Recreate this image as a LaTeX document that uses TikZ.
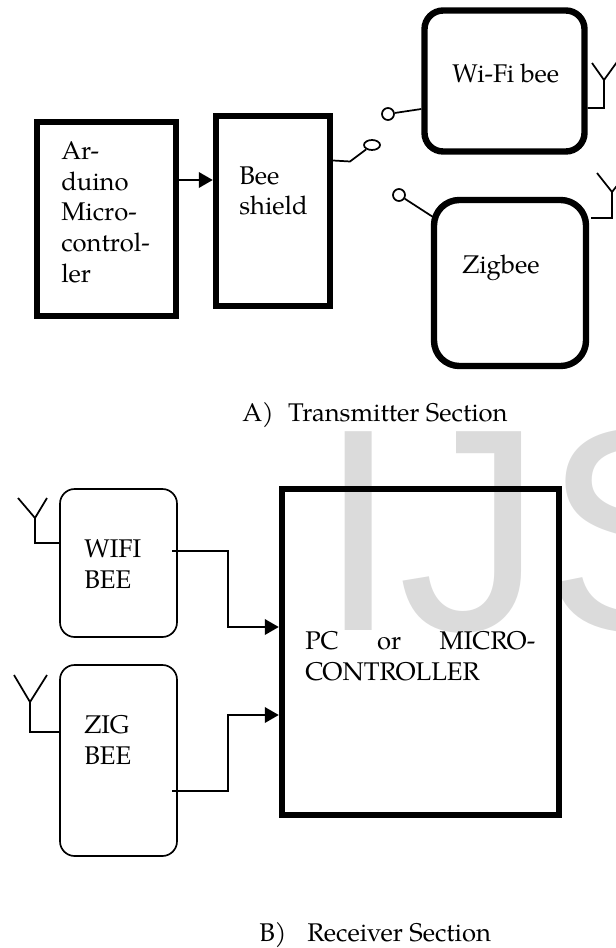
\documentclass[tikz,border=0pt]{standalone}
\usepackage{fontspec}
\setmainfont{TeX Gyre Pagella}
\newfontfamily\markfont{Liberation Sans}
\usetikzlibrary{arrows.meta,shapes.geometric}
\def\px{0.75pt}

\begin{document}
\begin{tikzpicture}[
  x=0.75pt, y=-0.75pt,
  font=\fontsize{19.2}{22.9}\selectfont,
  heavy/.style={draw, line width=4.8pt, minimum width=#1*\px},
  heavy/.default=100,
  soft/.style={draw, line width=1.25pt, rounded corners=11pt, minimum width=117*\px},
  boxtext/.style={anchor=base west, inner sep=0pt, align=left},
  wire/.style={line width=1.3pt},
  flow/.style={line width=1.9pt, -{Triangle[length=10.5pt, width=11.5pt]}},
  contact/.style={draw, line width=1.3pt, ellipse, inner sep=0pt}
]
  \useasboundingbox (0,0) rectangle (615,948);
  \node[anchor=base west, inner sep=0pt, text=black!14, font=\markfont\fontsize{216.75}{220}\selectfont] (mark) at (318,630) {IJS};

  % transmitter
  \node[heavy=139, minimum height=194*\px] (arduino) at (106.5,219) {};
  \node[heavy=114, minimum height=190*\px] (shield) at (273,211) {};
  \node[heavy=160, minimum height=141*\px, rounded corners=14pt] (wifi) at (504.5,81) {};
  \node[heavy=152, minimum height=166*\px, rounded corners=19pt] (zigbee) at (510,283) {};

  \node[boxtext] (arduinotext) at (61,282) {Ar-\\duino\\Micro-\\control-\\ler};
  \node[boxtext] (shieldtext) at (239,215) {Bee\\shield};
  \node[boxtext] (wifitext) at (452,83) {Wi-Fi bee};
  \node[boxtext] (zigbeetext) at (462,273) {Zigbee};
  \node[boxtext] (txcaption) at (242,421) {\makebox[34.5pt][l]{A)}Transmitter Section};

  \draw[flow] (arduino.east |- 0,180) -- (shield.west |- 0,180);

  \node[contact, minimum width=16*\px, minimum height=10*\px] (shieldpin) at (372,145) {};
  \node[contact, minimum width=12*\px, minimum height=12*\px] (wifipin) at (388,114) {};
  \node[contact, minimum width=12*\px, minimum height=12*\px] (zigbeepin) at (399,195) {};
  \draw[wire] (shield.east |- 0,160.5) -- (350,161.5) -- (shieldpin);
  \draw[wire] (wifi.west |- 0,109) -- (wifipin);
  \draw[wire] (433,217) -- (zigbeepin);

  \draw[wire] (wifi.east |- 0,108) -- (604,108) -- (604,80) coordinate (wifiant) -- (592,63);
  \draw[wire] (wifiant) -- (617,62);
  \draw[wire] (591,218) -- (612,218) -- (612,192) coordinate (zigant) -- (597,173);
  \draw[wire] (zigant) -- (627,173);

  % receiver
  \node[soft, minimum height=148*\px] (wifibee) at (118.5,563) {};
  \node[soft, minimum height=191*\px] (zigbee2) at (118.5,760.5) {};
  \node[heavy=277, minimum height=326*\px] (pc) at (420.5,652) {};

  \node[boxtext] (wifibeetext) at (84,588) {WIFI\\BEE};
  \node[boxtext] (zigbee2text) at (84,764) {ZIG\\BEE};
  \node[boxtext] (pctext) at (305,680) {\makebox[172.5pt][s]{PC\hfill or\hfill MICRO-}\\CONTROLLER};
  \node[boxtext] (rxcaption) at (259,941) {\makebox[36pt][l]{B)}Receiver Section};

  \draw[flow] (172,551) -- (228,551) -- (228,627) -- (pc.west |- 0,627);
  \draw[flow] (172,791) -- (228,791) -- (228,715) -- (pc.west |- 0,715);

  \draw[wire] (wifibee.west |- 0,543) -- (35,543) -- (35,518) coordinate (wifibeeant) -- (18,498);
  \draw[wire] (wifibeeant) -- (47,498);
  \draw[wire] (zigbee2.west |- 0,732) -- (30,732) -- (30,702) coordinate (zigbee2ant) -- (14,675);
  \draw[wire] (zigbee2ant) -- (47,675);
\end{tikzpicture}
\end{document}
